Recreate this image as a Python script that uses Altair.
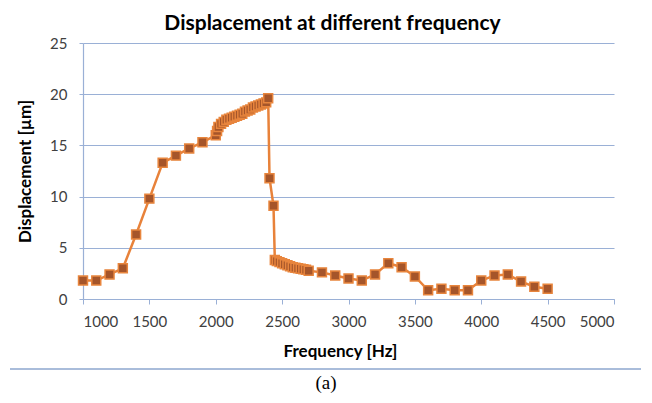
import altair as alt
import pandas as pd

freq = [1000, 1100, 1200, 1300, 1400, 1500, 1600, 1700, 1800, 1900, 2000,
        2010, 2020, 2040, 2060, 2080, 2100, 2120, 2140, 2160, 2180, 2200,
        2220, 2240, 2260, 2280, 2300, 2320, 2340, 2360, 2380, 2395,
        2405, 2435, 2445, 2460, 2480, 2500, 2520, 2540, 2560, 2580, 2600,
        2620, 2640, 2660, 2680, 2700, 2800, 2900, 3000, 3100, 3200, 3300,
        3400, 3500, 3600, 3700, 3800, 3900, 4000, 4100, 4200, 4300, 4400, 4500]
disp = [1.8, 1.8, 2.4, 3.0, 6.3, 9.8, 13.3, 14.0, 14.7, 15.3, 16.0,
        16.4, 16.8, 17.1, 17.3, 17.5, 17.6, 17.7, 17.8, 17.9, 18.0, 18.1,
        18.3, 18.4, 18.5, 18.7, 18.8, 18.9, 19.0, 19.1, 19.2, 19.6,
        11.8, 9.1, 3.8, 3.7, 3.6, 3.5, 3.4, 3.3, 3.2, 3.1, 3.05,
        3.0, 2.95, 2.9, 2.85, 2.75, 2.6, 2.3, 2.0, 1.8, 2.4, 3.5,
        3.1, 2.2, 0.85, 1.0, 0.85, 0.85, 1.8, 2.3, 2.4, 1.7, 1.2, 1.0]

x_ticks = [1000, 1500, 2000, 2500, 3000, 3500, 4000, 4500, 5000]
y_ticks = [0, 5, 10, 15, 20, 25]

df = pd.DataFrame({"Frequency": freq, "Displacement": disp})

FONT = "Lato"
GRID = "#9AB0D6"

x = alt.X("Frequency:Q", scale=alt.Scale(domain=[1000, 5000], nice=False),
          axis=alt.Axis(title="Frequency [Hz]", values=x_ticks, grid=False, format="d",
                        tickSize=5, labelPadding=10, titlePadding=14, titleX=257))
y = alt.Y("Displacement:Q", scale=alt.Scale(domain=[0, 25], nice=False),
          axis=alt.Axis(title="Displacement [µm]", values=y_ticks, grid=True, format="d",
                        tickSize=4, labelPadding=12, titlePadding=15))

line = alt.Chart(df).mark_line(color="#E8823A", strokeWidth=2.5).encode(x=x, y=y)
pts = alt.Chart(df).mark_point(shape="square", filled=True, size=80,
                               fill="#A5552A", stroke="#E8853D",
                               strokeWidth=1.5, opacity=1).encode(x=x, y=y)

rule = alt.Chart(df).mark_rule(color="#A9BCDA", strokeWidth=1).encode(
    x=alt.value(-73), x2=alt.value(558), y=alt.value(326))
cap = alt.Chart(pd.DataFrame({"t": ["(a)"]})).mark_text(
    font="Liberation Serif", fontSize=19, color="#000000", baseline="middle",
    align="center").encode(x=alt.value(243), y=alt.value(340), text="t:N")

chart = alt.layer(line, pts, rule, cap).properties(
    width=531, height=256,
    title=alt.TitleParams("Displacement at different frequency", fontSize=21,
                          font=FONT, fontWeight="bold", color="#000000",
                          anchor="middle", dx=-16, offset=2),
    autosize=alt.AutoSizeParams(type="none"),
    padding={"left": 75, "top": 35, "right": 30, "bottom": 96},
).configure_view(stroke=None).configure_axis(
    labelFont=FONT, labelFontSize=15, labelColor="#404040",
    titleFont=FONT, titleFontSize=17, titleFontWeight="bold", titleColor="#000000",
    domainColor=GRID, tickColor=GRID, gridColor=GRID, gridWidth=1.2, domainWidth=1.2,
)

chart.save("out.html", embed_options={"renderer": "svg", "actions": False})
